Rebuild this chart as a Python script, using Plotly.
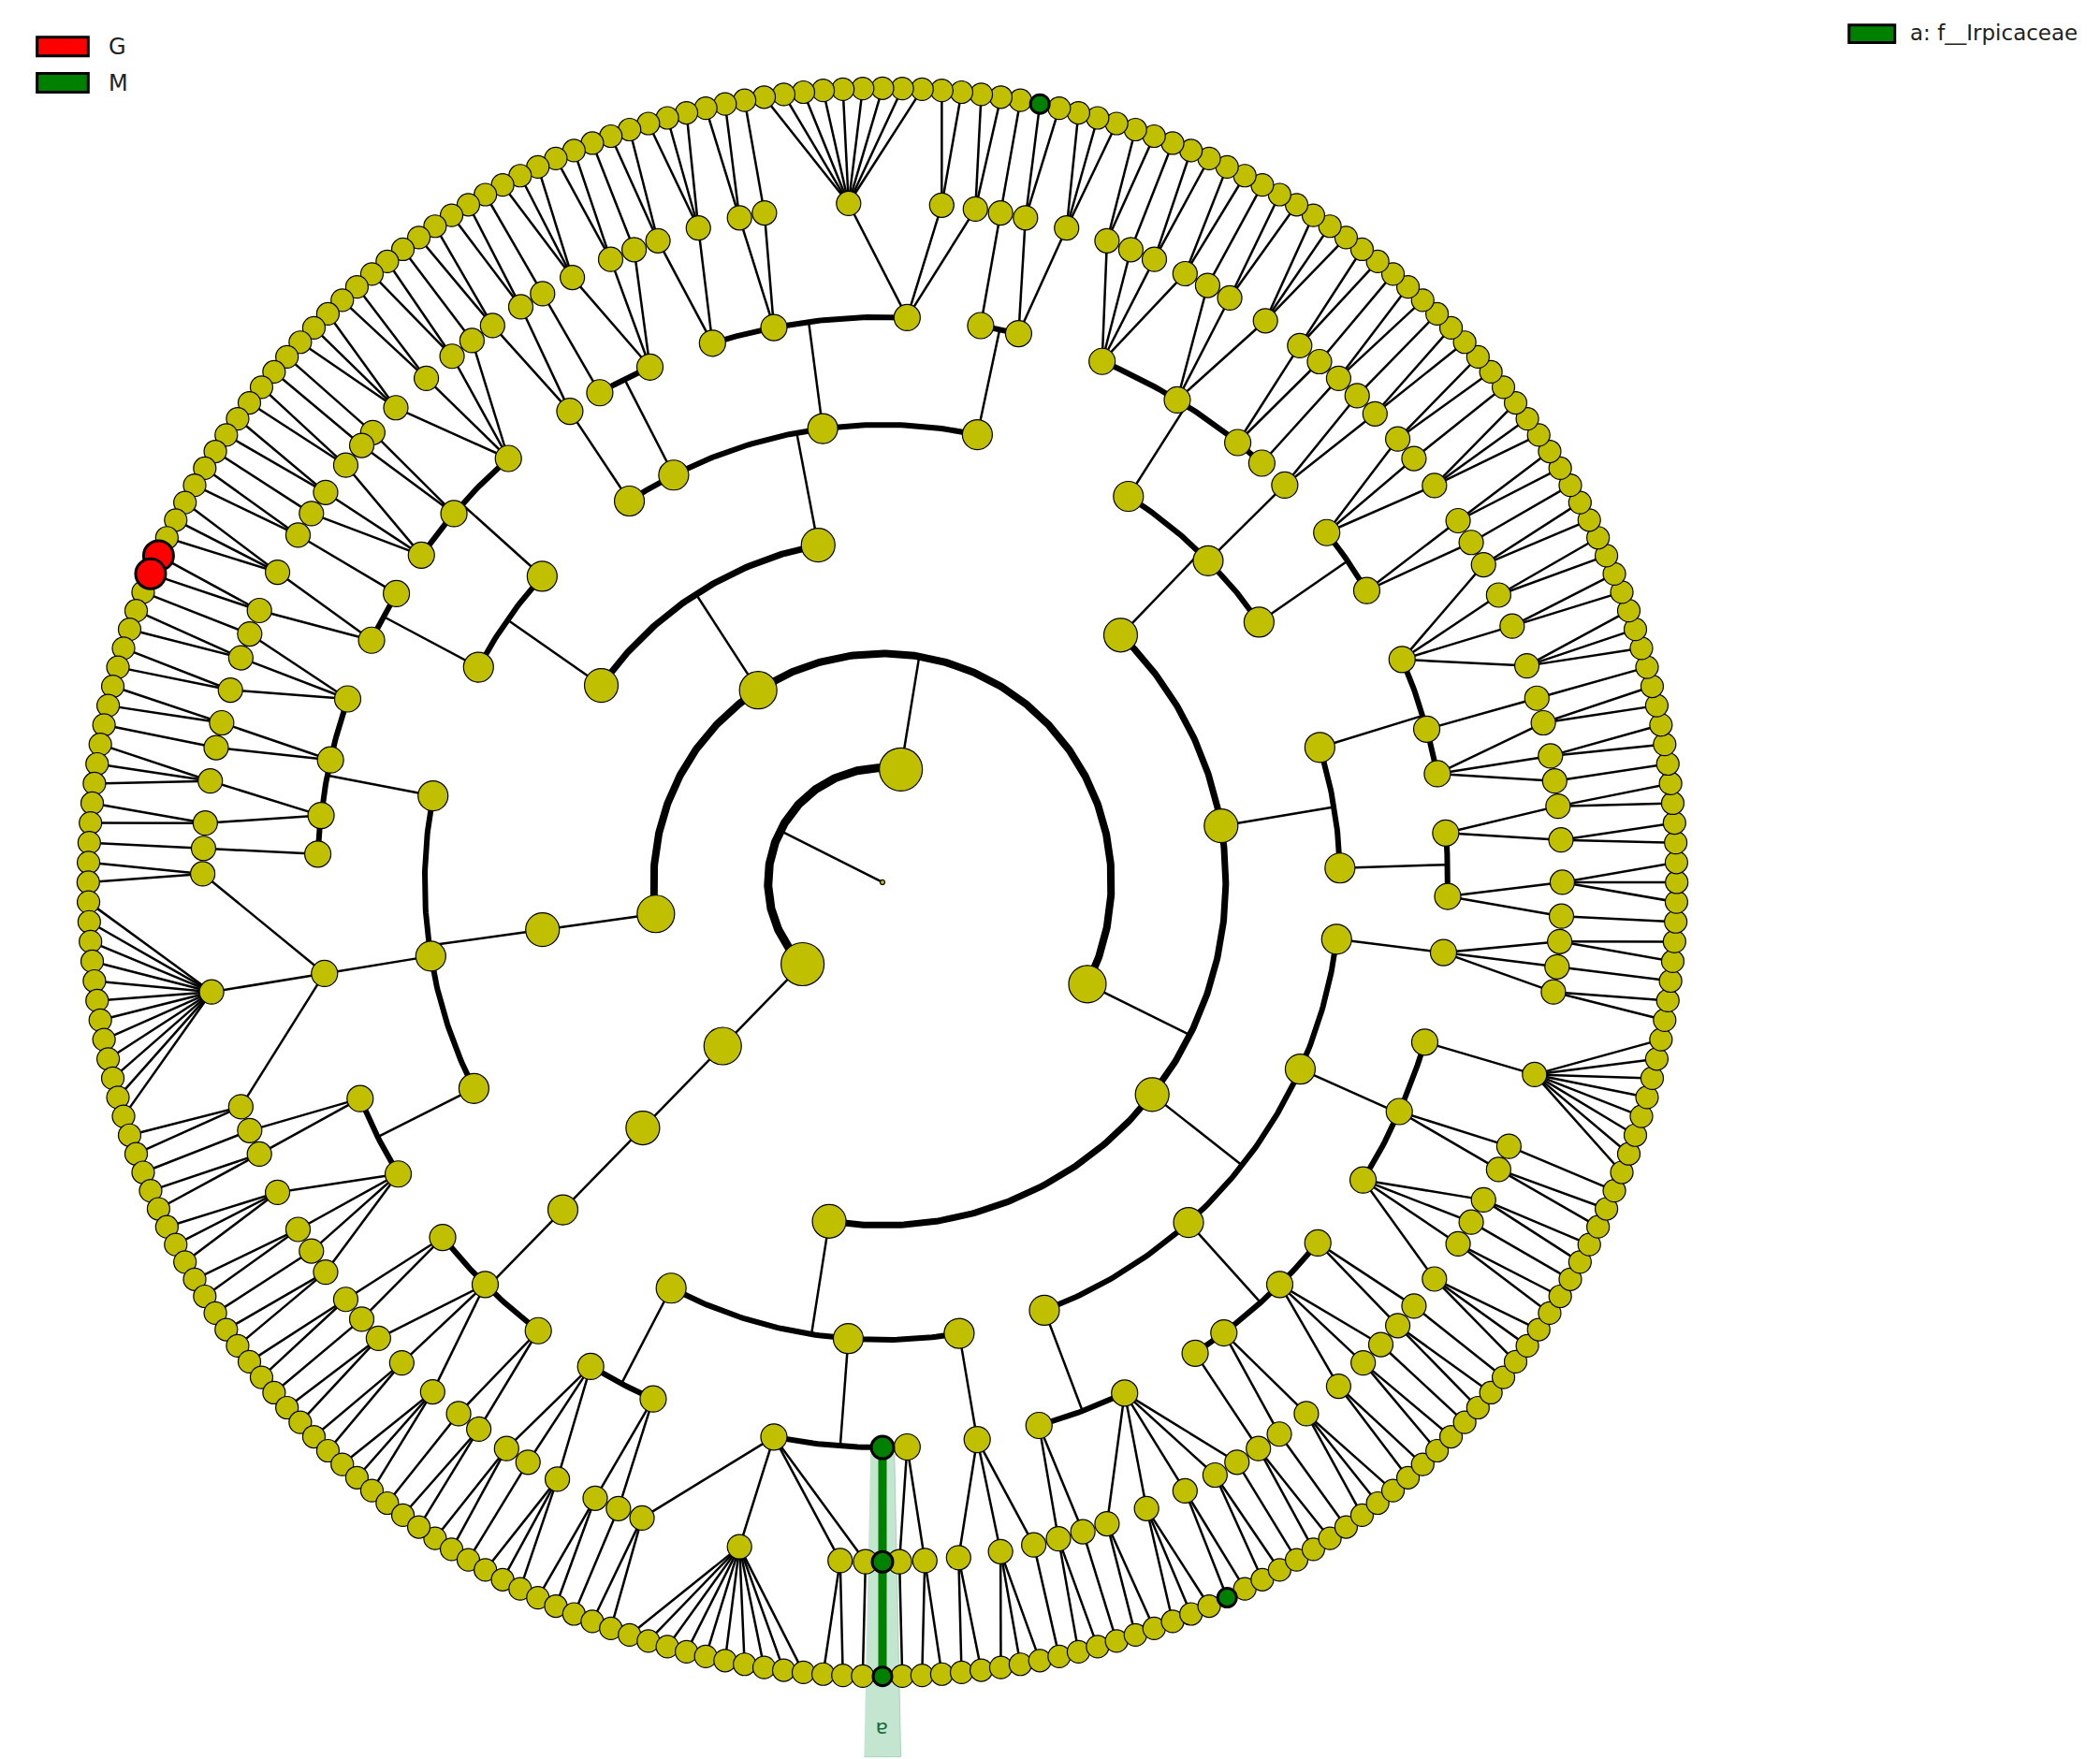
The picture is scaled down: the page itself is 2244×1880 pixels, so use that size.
import numpy as np
import plotly.graph_objects as go

# ---- tree data: number of children of each node, level by level (BFS order) ----
L0 = [2]
L1 = [3, 1]
L2 = [4, 2, 1, 1]
L3 = [3, 4, 2, 3, 4, 2, 3, 1]
L4 = [2, 3, 1, 2, 4, 3, 1, 2, 3, 2, 1, 4, 2, 3, 2, 1, 3, 2, 4, 1, 2, 3]
L5 = [3, 2, 4, 1, 2, 3, 2, 5, 1, 2,
      3, 2, 4, 2, 1, 3, 2, 2, 3, 1,
      4, 2, 3, 2, 1, 2, 3, 4, 2, 1,
      3, 2, 2, 3, 1, 2, 4, 2, 3, 1,
      2, 3, 2, 2, 1, 3, 2, 4, 2, 3,
      2]
L6 = [2, 1, 3, 2, 1, 2, 10, 2, 1, 1,
      1, 2, 2, 3, 1, 2, 1, 2, 3, 2,
      2, 1, 2, 1, 3, 2, 2, 1, 2, 1,
      3, 2, 1, 2, 2, 1, 8, 2, 1, 2,
      1, 3, 2, 2, 1, 2, 2, 1, 3, 2,
      2, 2, 1, 2, 3, 1, 2, 2, 1, 2,
      1, 2, 3, 2, 1, 2, 2, 1, 2, 3,
      2, 1, 2, 2, 9, 1, 2, 3, 2, 1,
      2, 3, 1, 2, 2, 1, 2, 2, 3, 1,
      1, 2, 2, 1, 2, 3, 2, 1, 2, 2,
      2, 1, 3, 2, 1, 2, 12, 2, 1, 2,
      3, 2, 1, 2, 2, 1, 2, 2, 3, 1,
      2]
child_counts = [L0, L1, L2, L3, L4, L5, L6]

# highlighted clades
group_names = ["G", "M"]
group_colors = ["#ff0000", "#008000"]
green_family = 3                 # index of family (level 5) f__Irpicaceae
red_leaf_offsets = [172, 173]    # leaves enriched in G, offset from the family's leaf
green_leaf_offsets = [18, 118]   # other leaves enriched in M
clade_label = "a"
clade_legend = "a: f__Irpicaceae"

# ---- layout ----
radii = [0, 85, 170, 255, 340, 420, 505, 590]
sizes = [5, 46, 40, 36, 32, 28, 26, 24]
arc_w = [0, 9, 8, 7, 6, 6, 0, 0]
YEL = "#c0c000"

parents = [[None]]
children = []
for L, cnt in enumerate(child_counts):
    assert len(cnt) == len(parents[L])
    par, ch, k = [], [], 0
    for pi, c in enumerate(cnt):
        ch.append(list(range(k, k + c)))
        par += [pi] * c
        k += c
    children.append(ch)
    parents.append(par)
depth = len(parents) - 1
N = len(parents[depth])
ang = [None] * (depth + 1)
ang[depth] = np.array([2 * np.pi * (i + 0.5) / N for i in range(N)])
for L in range(depth - 1, -1, -1):
    ang[L] = np.array([(ang[L + 1][c[0]] + ang[L + 1][c[-1]]) / 2 for c in children[L]])
rot = -np.pi / 2 - ang[5][green_family]
ang = [a + rot for a in ang]

def xy(L, i, r=None):
    r = radii[L] if r is None else r
    return r * np.cos(ang[L][i]), r * np.sin(ang[L][i])

green = {(5, green_family)}
genus = children[5][green_family]
for g in genus:
    green.add((6, g))
    for s in children[6][g]:
        green.add((7, s))
fam_leaf0 = min(s for (L, s) in green if L == 7)
red = {(7, (fam_leaf0 + o) % N) for o in red_leaf_offsets}
for o in green_leaf_offsets:
    green.add((7, (fam_leaf0 + o) % N))

fig = go.Figure()
tf = ang[5][green_family]
dt = 0.021
th = np.linspace(tf - dt, tf + dt, 10)
wx = list(425 * np.cos(th)) + list(650 * np.cos(th[::-1]))
wy = list(425 * np.sin(th)) + list(650 * np.sin(th[::-1]))
fig.add_trace(go.Scatter(x=wx, y=wy, fill="toself", mode="lines",
                         line=dict(color="rgba(60,170,100,0.35)", width=1),
                         fillcolor="rgba(60,170,100,0.3)", hoverinfo="skip", showlegend=False))

lx, ly, gx, gy = [], [], [], []
arcs = {}
for L in range(1, depth + 1):
    for i, p in enumerate(parents[L]):
        isg = (L, i) in green and (L - 1, p) in green
        if L <= 5:
            x0, y0 = xy(L - 1, p)
            x1, y1 = (radii[L] * np.cos(ang[L - 1][p]), radii[L] * np.sin(ang[L - 1][p]))
            if i == children[L - 1][p][0]:
                lx += [x0, x1, None]; ly += [y0, y1, None]
        else:
            x0, y0 = xy(L - 1, p)
            x1, y1 = xy(L, i)
            if isg:
                gx += [x0, x1, None]; gy += [y0, y1, None]
            else:
                lx += [x0, x1, None]; ly += [y0, y1, None]
    if L <= 5:
        for p, ch in enumerate(children[L - 1]):
            a0, a1 = ang[L][ch[0]], ang[L][ch[-1]]
            if len(ch) > 1:
                t = np.linspace(a0, a1, max(4, int(abs(a1 - a0) * 120)))
                ax_, ay_ = arcs.setdefault(arc_w[L], ([], []))
                ax_ += list(radii[L] * np.cos(t)) + [None]
                ay_ += list(radii[L] * np.sin(t)) + [None]
fig.add_trace(go.Scatter(x=lx, y=ly, mode="lines", line=dict(color="black", width=2.5),
                         hoverinfo="skip", showlegend=False))
for w, (ax_, ay_) in arcs.items():
    fig.add_trace(go.Scatter(x=ax_, y=ay_, mode="lines", line=dict(color="black", width=w),
                             hoverinfo="skip", showlegend=False))
fig.add_trace(go.Scatter(x=gx, y=gy, mode="lines", line=dict(color="#008000", width=9),
                         hoverinfo="skip", showlegend=False))

nx, ny, ns = [], [], []
hx, hy, hs, hc = [], [], [], []
for L in range(depth + 1):
    for i in range(len(parents[L])):
        x, y = xy(L, i)
        if (L, i) in red or (L, i) in green:
            hx.append(x); hy.append(y)
            hs.append(sizes[L] + (8 if (L, i) in red else -4))
            hc.append(group_colors[0] if (L, i) in red else group_colors[1])
        else:
            nx.append(x); ny.append(y); ns.append(sizes[L])
fig.add_trace(go.Scatter(x=nx, y=ny, mode="markers",
                         marker=dict(size=ns, color=YEL, opacity=1,
                                     line=dict(color="black", width=1.2)),
                         hoverinfo="skip", showlegend=False))
fig.add_trace(go.Scatter(x=hx, y=hy, mode="markers",
                         marker=dict(size=hs, color=hc, opacity=1,
                                     line=dict(color="black", width=3)),
                         hoverinfo="skip", showlegend=False))

fig.add_annotation(x=630 * np.cos(tf), y=630 * np.sin(tf), text=clade_label, showarrow=False,
                   textangle=90 - np.degrees(tf), font=dict(size=22, color="#1a6b3a"))

for k, (nm, col) in enumerate(zip(group_names, group_colors)):
    yy = 621 - k * 27
    fig.add_shape(type="rect", x0=-628, x1=-590, y0=yy - 7, y1=yy + 7,
                  fillcolor=col, line=dict(color="black", width=3))
    fig.add_annotation(x=-576, y=yy, text=nm, showarrow=False, xanchor="left",
                       font=dict(size=24, color="#222"))
fig.add_shape(type="rect", x0=718, x1=752, y0=624, y1=637,
              fillcolor=group_colors[1], line=dict(color="black", width=3))
fig.add_annotation(x=762, y=631, text=clade_legend, showarrow=False, xanchor="left",
                   font=dict(size=23, color="#222"))

fig.update_layout(width=2244, height=1880, margin=dict(l=0, r=0, t=0, b=0),
                  plot_bgcolor="white", paper_bgcolor="white",
                  font=dict(family="DejaVu Sans"),
                  xaxis=dict(range=[-650, 910], visible=False),
                  yaxis=dict(range=[-657, 650], visible=False))
fig.write_html("out.html")
